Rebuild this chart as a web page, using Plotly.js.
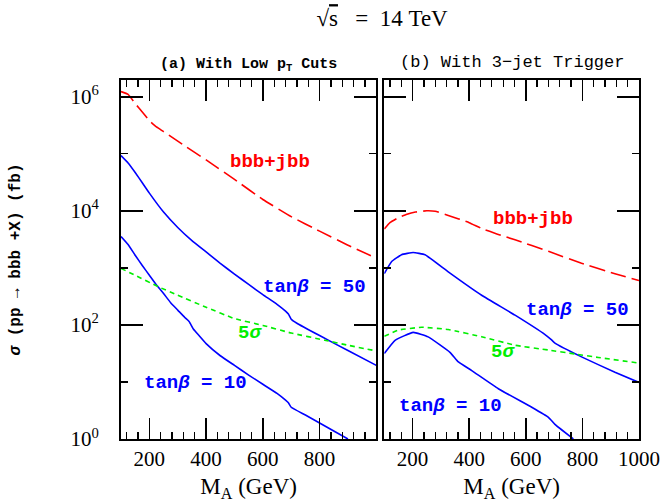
<!DOCTYPE html>
<html>
<head>
<meta charset="utf-8">
<script src="https://cdn.plot.ly/plotly-3.0.1.min.js"></script>
<style>html,body{margin:0;padding:0;background:#fff;}#chart{width:666px;height:503px;}</style>
</head>
<body>
<div id="chart"></div>
<script>
// ---- data (sigma in fb vs M_A in GeV) ----
// (a) With Low pT Cuts
const aBkgM   = [100, 125, 150, 175, 200, 225, 250, 300, 400, 500, 600, 700, 800, 900, 1000];
const aBkgSig = [1.23e6, 1.10e6, 7.6e5, 5.4e5, 3.8e5, 2.95e5, 2.45e5, 1.66e5, 7.8e4, 3.55e4, 1.58e4, 7.9e3, 4.4e3, 2.5e3, 1.48e3];
const a50M    = [100, 125, 150, 175, 200, 250, 300, 350, 400, 450, 500, 550, 600, 650, 680, 690, 700, 720, 800, 900, 1000];
const a50Sig  = [9.3e4, 6.9e4, 4.7e4, 3.1e4, 2.04e4, 9.5e3, 5.1e3, 3.0e3, 1.9e3, 1.2e3, 776, 513, 339, 229, 174, 155, 126, 107, 65, 35.5, 19.5];
const a10M    = [100, 125, 150, 175, 200, 225, 250, 275, 300, 325, 340, 355, 375, 400, 450, 500, 550, 600, 650, 680, 690, 700, 750, 800, 850, 900];
const a10Sig  = [3550, 2570, 1660, 1100, 741, 501, 355, 245, 182, 135, 115, 85, 65, 47, 28.8, 19.5, 13.2, 9.1, 6.3, 4.8, 4.3, 3.6, 2.63, 1.91, 1.38, 1.0];
const a5sM    = [100, 150, 231, 300, 400, 500, 600, 700, 818, 900, 1000];
const a5sSig  = [977, 741, 468, 331, 204, 129, 98, 72, 54, 44, 35];
// (b) With 3-jet Trigger
const bBkgM   = [100, 120, 150, 180, 210, 250, 280, 326, 400, 444, 500, 562, 680, 797, 915, 1000];
const bBkgSig = [4800, 6200, 7600, 8700, 9500, 10000, 9800, 8300, 6200, 4900, 3900, 3100, 1950, 1200, 790, 600];
const b50M    = [100, 126, 161, 202, 244, 326, 444, 562, 668, 690, 703, 797, 915, 1000];
const b50Sig  = [794, 1290, 1700, 1860, 1700, 851, 331, 148, 67.6, 55, 47.9, 27.5, 14.8, 9.8];
const b10M    = [100, 138, 202, 255, 332, 362, 409, 503, 621, 680, 703, 768];
const b10Sig  = [31.6, 53.7, 74.1, 61.7, 33.1, 22.4, 15.8, 7.6, 3.6, 2.4, 1.8, 1.0];
const b5sM    = [100, 149, 232, 326, 444, 562, 680, 774, 856, 1000];
const b5sSig  = [63, 81, 91, 83, 62, 44, 36.3, 30.9, 26.9, 21.4];

// ticks
const xTickVals   = [200, 400, 600, 800, 1000];
const xTickTextA  = ['200', '400', '600', '800', ''];
const xTickTextB  = ['200', '400', '600', '800', '1000'];
const yTickVals   = [1, 100, 1e4, 1e6];
const yTickText   = ['10<sup>0</sup>', '10<sup>2</sup>', '10<sup>4</sup>', '10<sup>6</sup>'];
const yMinorVals  = [10, 1000, 1e5];

// text labels
const curveLabels = ['bbb+jbb', 'tan<i>β</i> = 50', '5<i>σ</i>', 'tan<i>β</i> = 10'];

const RED = '#ff0000', BLUE = '#0000ff', GREEN = '#00ee00';
const monoB = {family: 'Liberation Mono', size: 19, weight: 'bold'};

function tr(x, y, color, dash, xa, ya) {
  return {x: x, y: y, type: 'scatter', mode: 'lines', xaxis: xa, yaxis: ya,
          line: {color: color, width: 1.6, dash: dash, shape: 'spline', smoothing: 0.35},
          hoverinfo: 'skip', showlegend: false};
}
const LD = '16px,6px', SD = '5px,4px';
const data = [
  tr(aBkgM, aBkgSig, RED, LD, 'x', 'y'),
  tr(a50M, a50Sig, BLUE, 'solid', 'x', 'y'),
  tr(a10M, a10Sig, BLUE, 'solid', 'x', 'y'),
  tr(a5sM, a5sSig, GREEN, SD, 'x', 'y'),
  tr(bBkgM, bBkgSig, RED, LD, 'x2', 'y2'),
  tr(b50M, b50Sig, BLUE, 'solid', 'x2', 'y2'),
  tr(b10M, b10Sig, BLUE, 'solid', 'x2', 'y2'),
  tr(b5sM, b5sSig, GREEN, SD, 'x2', 'y2')
];

const tickFont = {family: 'Liberation Serif', size: 21, color: '#000'};
function xax(dom, ticktext, anchor) {
  return {domain: dom, anchor: anchor, range: [100, 1000], showgrid: false, zeroline: false,
    showline: true, linecolor: '#000', linewidth: 2, mirror: 'ticks',
    ticks: 'inside', ticklen: 21, tickwidth: 1.6, tickcolor: '#000',
    tickmode: 'array', tickvals: xTickVals, ticktext: ticktext, tickfont: tickFont,
    ticklabelstandoff: 0,
    minor: {ticks: 'inside', ticklen: 7, tickwidth: 1.3, tickcolor: '#000', dtick: 40, tick0: 0, showgrid: false},
    title: {text: 'M<sub>A</sub> (GeV)', font: {family: 'Liberation Serif', size: 23, color: '#000'}, standoff: 8}};
}
function yax(anchor, showLabels, title) {
  const o = {domain: [0, 1], anchor: anchor, type: 'log', range: [0, 6.293], showgrid: false, zeroline: false,
    showline: true, linecolor: '#000', linewidth: 2, mirror: 'ticks',
    ticks: 'inside', ticklen: 22, tickwidth: 1.6, tickcolor: '#000',
    tickmode: 'array', tickvals: yTickVals, ticktext: yTickText, showticklabels: showLabels,
    tickfont: {family: 'Liberation Serif', size: 21, color: '#000'}, ticklabelstandoff: 16,
    minor: {ticks: 'inside', ticklen: 7, tickwidth: 1.3, tickcolor: '#000', tickmode: 'array', tickvals: yMinorVals, showgrid: false}};
  if (title) o.title = {text: title, font: {family: 'Liberation Mono', size: 16, weight: 'bold', color: '#000'}, standoff: 46};
  return o;
}

function ann(text, xref, yref, x, y, color, font) {
  return {text: text, xref: xref, yref: yref, x: x, y: y, showarrow: false,
          xanchor: 'center', yanchor: 'middle', font: Object.assign({color: color}, font)};
}
const annotations = [
  ann(curveLabels[0], 'x domain', 'y domain', 0.584, 0.771, RED, monoB),
  ann(curveLabels[1], 'x domain', 'y domain', 0.756, 0.423, BLUE, monoB),
  ann(curveLabels[2], 'x domain', 'y domain', 0.505, 0.294, GREEN, monoB),
  ann(curveLabels[3], 'x domain', 'y domain', 0.290, 0.155, BLUE, monoB),
  ann(curveLabels[0], 'x2 domain', 'y2 domain', 0.584, 0.612, RED, monoB),
  ann(curveLabels[1], 'x2 domain', 'y2 domain', 0.760, 0.358, BLUE, monoB),
  ann(curveLabels[2], 'x2 domain', 'y2 domain', 0.466, 0.241, GREEN, monoB),
  ann(curveLabels[3], 'x2 domain', 'y2 domain', 0.258, 0.091, BLUE, monoB),
  ann('(a) With Low p<sub>T</sub> Cuts', 'x domain', 'paper', 0.5, 1.042, '#000', {family: 'Liberation Mono', size: 15, weight: 'bold'}),
  ann('(b) With 3\u2212jet Trigger', 'x2 domain', 'paper', 0.5, 1.050, '#000', {family: 'Liberation Mono', size: 17})
];

const layout = {
  width: 666, height: 503,
  margin: {l: 121, r: 27, t: 80, b: 64, pad: 0},
  paper_bgcolor: '#fff', plot_bgcolor: '#fff',
  title: {text: '\u221A<span style="text-decoration:overline">s</span>\u00a0\u00a0\u00a0=\u00a0\u00a014\u00a0TeV',
          font: {family: 'Liberation Serif', size: 23, color: '#000'},
          x: 0.504, xref: 'paper', xanchor: 'center', y: 0.964, yref: 'container', yanchor: 'middle'},
  xaxis: xax([0, 0.4929], xTickTextA, 'y'),
  xaxis2: xax([0.5083, 1], xTickTextB, 'y2'),
  yaxis: yax('x', true, '<i>σ</i> (pp \u2192 bbb +X) (fb)'),
  yaxis2: yax('x2', false, null),
  annotations: annotations,
  showlegend: false
};

Plotly.newPlot('chart', data, layout, {staticPlot: true, displayModeBar: false});
</script>
</body>
</html>
